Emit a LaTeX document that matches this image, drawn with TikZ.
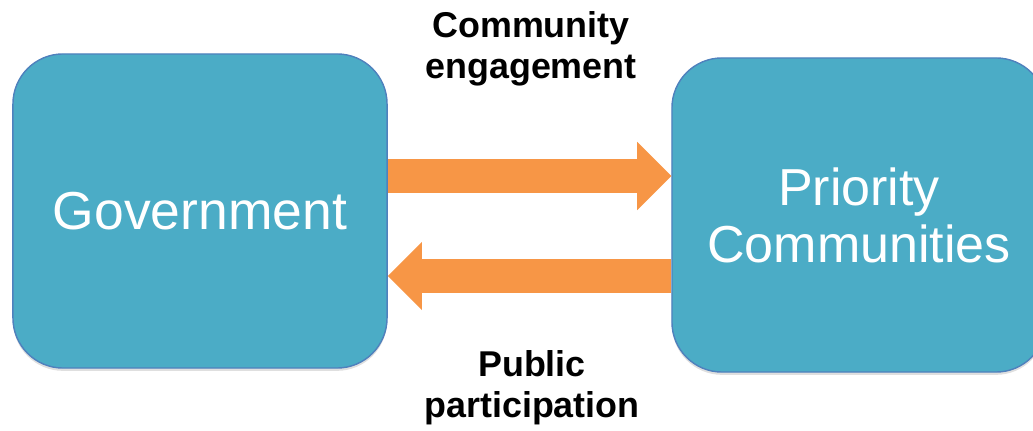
\documentclass[tikz,border=0pt]{standalone}
\usepackage{fontspec}
\setmainfont{Liberation Sans}
\usetikzlibrary{arrows.meta,shadows}
\definecolor{boxfill}{RGB}{75,172,198}
\definecolor{boxline}{RGB}{79,129,189}
\definecolor{arrowfill}{RGB}{247,150,70}
\begin{document}
\begin{tikzpicture}[x=0.025cm, y=-0.025cm,
  block/.style={draw=boxline, line width=1pt, fill=boxfill, rounded corners=1.25cm, minimum width=9.35cm, minimum height=7.85cm, text=white, align=center, drop shadow={opacity=0.25, shadow xshift=0pt, shadow yshift=-2pt}},
  flow/.style={draw=arrowfill, line width=24.2pt, -{Triangle[length=24.2pt, width=48.4pt, line width=0pt]}},
  caption/.style={font=\bfseries\fontsize{25.5}{29.5}\selectfont, align=center, inner sep=0pt, anchor=north}]
  \useasboundingbox (0,0) rectangle (1033,431);
  \node[block, font=\fontsize{38}{42}\selectfont] (government) at (200,211) {Government};
  \node[block, font=\fontsize{37}{40.5}\selectfont] (priority_communities) at (859,215) {Priority\\Communities};
  \node[caption] (community_engagement) at (531,11) {Community\\engagement};
  \node[caption] (public_participation) at (532,350) {Public\\participation};
  \draw[flow] (government.east |- 0,176) -- (priority_communities.west |- 0,176);
  \draw[flow] (priority_communities.west |- 0,276) -- (government.east |- 0,276);
\end{tikzpicture}
\end{document}
